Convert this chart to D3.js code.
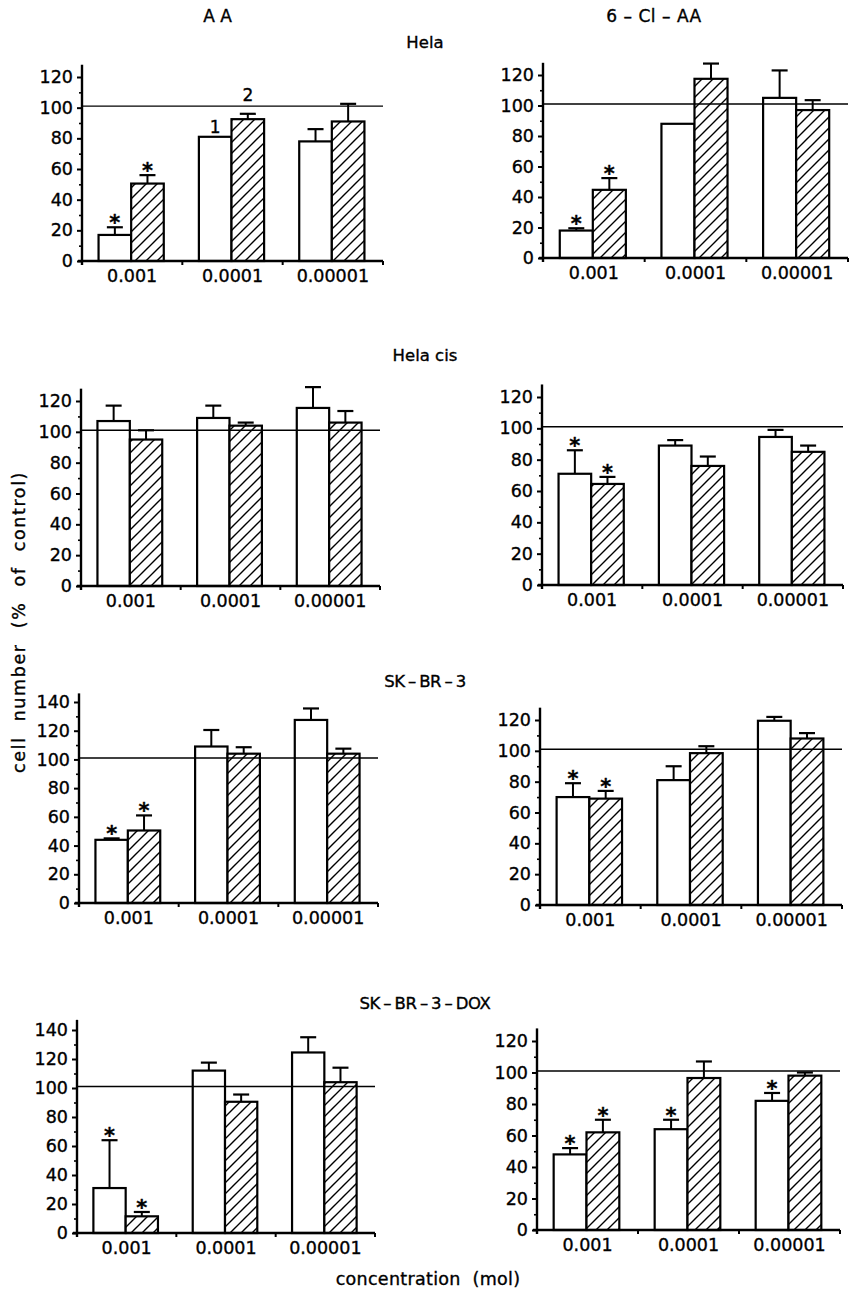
<!DOCTYPE html>
<html>
<head>
<meta charset="utf-8">
<script src="https://cdnjs.cloudflare.com/ajax/libs/d3/7.8.5/d3.min.js"></script>
<style>
  body { margin: 0; background: #fff; }
  svg { display: block; font-family: "DejaVu Sans", sans-serif; }
  svg text { stroke: #000; stroke-width: 0.35px; }
</style>
</head>
<body>
<svg width="850" height="1290"></svg>
<script>
var concentrations = ["0.001", "0.0001", "0.00001"];
var treatments = ["1", "2"];           // 1 = open bar, 2 = hatched bar
var compounds = ["AA", "6 – Cl – AA"];
var cellLines = ["Hela", "Hela cis", "SK – BR – 3", "SK – BR – 3 – DOX"];
var refLevel = 101;

// values per panel, order: 0.001/1, 0.001/2, 0.0001/1, 0.0001/2, 0.00001/1, 0.00001/2
var helaAA      = [17, 50.5, 81, 92.5, 78, 91];
var helaAA_sd   = [5, 5.5, 0, 3.5, 8, 11.5];
var helaAA_sig  = [1, 1, 0, 0, 0, 0];

var helaCl      = [18, 44.7, 88, 117.5, 105, 97];
var helaCl_sd   = [1.5, 7.7, 0, 10, 18, 6.5];
var helaCl_sig  = [1, 1, 0, 0, 0, 0];

var cisAA       = [107, 95, 109, 104, 115.5, 106];
var cisAA_sd    = [10, 6, 8, 2, 13.5, 7.5];
var cisAA_sig   = [0, 0, 0, 0, 0, 0];

var cisCl       = [71, 64.5, 89, 76, 94.5, 85];
var cisCl_sd    = [15, 4.5, 3.5, 6, 4.5, 4];
var cisCl_sig   = [1, 1, 0, 0, 0, 0];

var skAA        = [44, 50.5, 109, 104, 127.5, 104];
var skAA_sd     = [1, 10.5, 11.5, 4.5, 8, 3.5];
var skAA_sig    = [1, 1, 0, 0, 0, 0];

var skCl        = [70, 69, 81, 98.5, 119.5, 108];
var skCl_sd     = [9, 5, 9, 4.5, 2.5, 3.5];
var skCl_sig    = [1, 1, 0, 0, 0, 0];

var doxAA       = [31, 11.5, 112, 90.5, 124.5, 104];
var doxAA_sd    = [33, 3, 5.5, 5, 10.5, 10];
var doxAA_sig   = [1, 1, 0, 0, 0, 0];

var doxCl       = [48, 62, 64, 96.5, 82, 98];
var doxCl_sd    = [4, 8, 6, 10.5, 5, 2];
var doxCl_sig   = [1, 1, 1, 0, 1, 0];

// panel frames (layout only)
var panels = [
  {mean: helaAA, sd: helaAA_sd, sig: helaAA_sig, x0: 82,  x1: 383, y0: 261,  yt: 77,   top: 120, max: 128},
  {mean: helaCl, sd: helaCl_sd, sig: helaCl_sig, x0: 543, x1: 848, y0: 258,  yt: 75,   top: 120, max: 128},
  {mean: cisAA,  sd: cisAA_sd,  sig: cisAA_sig,  x0: 81,  x1: 380, y0: 586,  yt: 401,  top: 120, max: 128},
  {mean: cisCl,  sd: cisCl_sd,  sig: cisCl_sig,  x0: 542, x1: 843, y0: 585,  yt: 397,  top: 120, max: 128},
  {mean: skAA,   sd: skAA_sd,   sig: skAA_sig,   x0: 79,  x1: 378, y0: 903,  yt: 702,  top: 140, max: 146},
  {mean: skCl,   sd: skCl_sd,   sig: skCl_sig,   x0: 540, x1: 842, y0: 905,  yt: 720,  top: 120, max: 128},
  {mean: doxAA,  sd: doxAA_sd,  sig: doxAA_sig,  x0: 77,  x1: 375, y0: 1233, yt: 1030, top: 140, max: 147},
  {mean: doxCl,  sd: doxCl_sd,  sig: doxCl_sig,  x0: 537, x1: 840, y0: 1230, yt: 1041, top: 120, max: 128}
];

var svg = d3.select("svg");

// hatch pattern for series 2
var pat = svg.append("defs").append("pattern")
  .attr("id", "hatch")
  .attr("patternUnits", "userSpaceOnUse")
  .attr("width", 11).attr("height", 11);
pat.append("rect").attr("width", 11).attr("height", 11).attr("fill", "#fff");
pat.append("path")
  .attr("d", "M-1,1 l2,-2 M0,11 l11,-11 M10,12 l2,-2")
  .attr("stroke", "#000").attr("stroke-width", 1.4);

panels.forEach(function(p, pi) {
  var g = svg.append("g");

  var x = d3.scaleBand().domain(concentrations).range([p.x0, p.x1]);
  var bw = x.bandwidth();
  var xs = d3.scaleBand().domain(treatments).range([bw * 0.165, bw * 0.815]);
  var y = d3.scaleLinear().domain([0, p.top]).range([p.y0, p.yt]);

  var rows = p.mean.map(function(v, i) {
    return {c: concentrations[Math.floor(i / 2)], t: treatments[i % 2], v: v, sd: p.sd[i], sig: p.sig[i]};
  });
  var cx = function(d) { return x(d.c) + xs(d.t) + xs.bandwidth() / 2; };

  // bars
  g.selectAll("rect.bar")
    .data(rows)
    .enter()
    .append("rect")
    .attr("class", "bar")
    .attr("x", function(d) { return x(d.c) + xs(d.t); })
    .attr("width", xs.bandwidth())
    .attr("y", function(d) { return y(d.v); })
    .attr("height", function(d) { return y(0) - y(d.v); })
    .attr("fill", function(d) { return d.t === "1" ? "#fff" : "url(#hatch)"; })
    .attr("stroke", "#000")
    .attr("stroke-width", 2.2);

  // error bars (upper only)
  var withErr = rows.filter(function(d) { return d.sd > 0; });
  g.selectAll("line.err")
    .data(withErr)
    .enter()
    .append("line")
    .attr("x1", cx).attr("x2", cx)
    .attr("y1", function(d) { return y(d.v); })
    .attr("y2", function(d) { return y(d.v + d.sd); })
    .attr("stroke", "#000").attr("stroke-width", 2);
  g.selectAll("line.cap")
    .data(withErr)
    .enter()
    .append("line")
    .attr("x1", function(d) { return cx(d) - 8; })
    .attr("x2", function(d) { return cx(d) + 8; })
    .attr("y1", function(d) { return y(d.v + d.sd); })
    .attr("y2", function(d) { return y(d.v + d.sd); })
    .attr("stroke", "#000").attr("stroke-width", 2.2);

  // significance stars
  g.selectAll("text.star")
    .data(rows.filter(function(d) { return d.sig; }))
    .enter()
    .append("text")
    .attr("x", cx)
    .attr("y", function(d) { return y(d.v + d.sd) + 3; })
    .attr("text-anchor", "middle")
    .attr("font-size", 21)
    .attr("font-weight", "bold")
    .text("*");

  // control line
  g.append("line")
    .attr("x1", p.x0).attr("x2", p.x1)
    .attr("y1", y(refLevel)).attr("y2", y(refLevel))
    .attr("stroke", "#000").attr("stroke-width", 1.4);

  // x axis
  g.append("line")
    .attr("x1", p.x0 - 4).attr("x2", p.x1)
    .attr("y1", y(0)).attr("y2", y(0))
    .attr("stroke", "#000").attr("stroke-width", 2.4);
  g.selectAll("line.xt")
    .data(concentrations.slice(1).map(function(c) { return x(c); }).concat([p.x1]))
    .enter()
    .append("line")
    .attr("x1", function(d) { return d; }).attr("x2", function(d) { return d; })
    .attr("y1", y(0)).attr("y2", y(0) + 4)
    .attr("stroke", "#000").attr("stroke-width", 2);
  var xa = g.append("g")
    .attr("transform", "translate(0," + y(0) + ")")
    .call(d3.axisBottom(x).tickSize(0).tickPadding(9));
  xa.select(".domain").remove();
  xa.attr("font-size", 17.5).attr("font-family", null);

  // y axis
  var ya = g.append("g")
    .attr("transform", "translate(" + p.x0 + ",0)")
    .call(d3.axisLeft(y).tickValues(d3.range(0, p.top + 1, 20)).tickSize(5).tickPadding(4));
  ya.select(".domain").remove();
  ya.attr("font-size", 17.5).attr("font-family", null);
  ya.selectAll("line").attr("stroke-width", 2);
  var ym = g.append("g")
    .attr("transform", "translate(" + p.x0 + ",0)")
    .call(d3.axisLeft(y).tickValues(d3.range(10, p.max, 20)).tickSize(3).tickFormat(""));
  ym.select(".domain").remove();
  ym.selectAll("line").attr("stroke-width", 1.6);
  g.append("line")
    .attr("x1", p.x0).attr("x2", p.x0)
    .attr("y1", y(0) + 4).attr("y2", y(p.max))
    .attr("stroke", "#000").attr("stroke-width", 2.4);

  // series labels in the first panel
  if (pi === 0) {
    g.selectAll("text.ser")
      .data(rows.filter(function(d) { return d.c === concentrations[1]; }))
      .enter()
      .append("text")
      .attr("x", cx)
      .attr("y", function(d) { return d.sd > 0 ? y(d.v + d.sd) - 13 : y(d.v) - 4; })
      .attr("text-anchor", "middle")
      .attr("font-size", 17)
      .text(function(d) { return d.t; });
  }
});

// column titles
svg.selectAll("text.col")
  .data(compounds)
  .enter()
  .append("text")
  .attr("x", function(d, i) { return i === 0 ? 220 : 654; })
  .attr("y", 22)
  .attr("text-anchor", "middle")
  .attr("font-size", 17)
  .attr("letter-spacing", function(d, i) { return i === 0 ? 5 : 0.5; })
  .text(function(d) { return d; });

// row titles
var rowY = [48, 361, 687, 1009];
svg.selectAll("text.row")
  .data(cellLines)
  .enter()
  .append("text")
  .attr("x", 425)
  .attr("y", function(d, i) { return rowY[i]; })
  .attr("text-anchor", "middle")
  .attr("font-size", 16.5)
  .attr("letter-spacing", function(d, i) { return i < 2 ? 0 : -0.4; })
  .attr("word-spacing", function(d, i) { return i < 2 ? 0 : -1.5; })
  .text(function(d) { return d; });

// axis titles
svg.append("text")
  .attr("transform", "translate(25,622) rotate(-90)")
  .attr("text-anchor", "middle")
  .attr("font-size", 17.5)
  .attr("letter-spacing", 1.6)
  .attr("word-spacing", 8)
  .text("cell number (% of control)");

svg.append("text")
  .attr("x", 428)
  .attr("y", 1285)
  .attr("text-anchor", "middle")
  .attr("font-size", 17.5)
  .attr("letter-spacing", 0.3)
  .attr("word-spacing", 6)
  .text("concentration (mol)");
</script>
</body>
</html>
